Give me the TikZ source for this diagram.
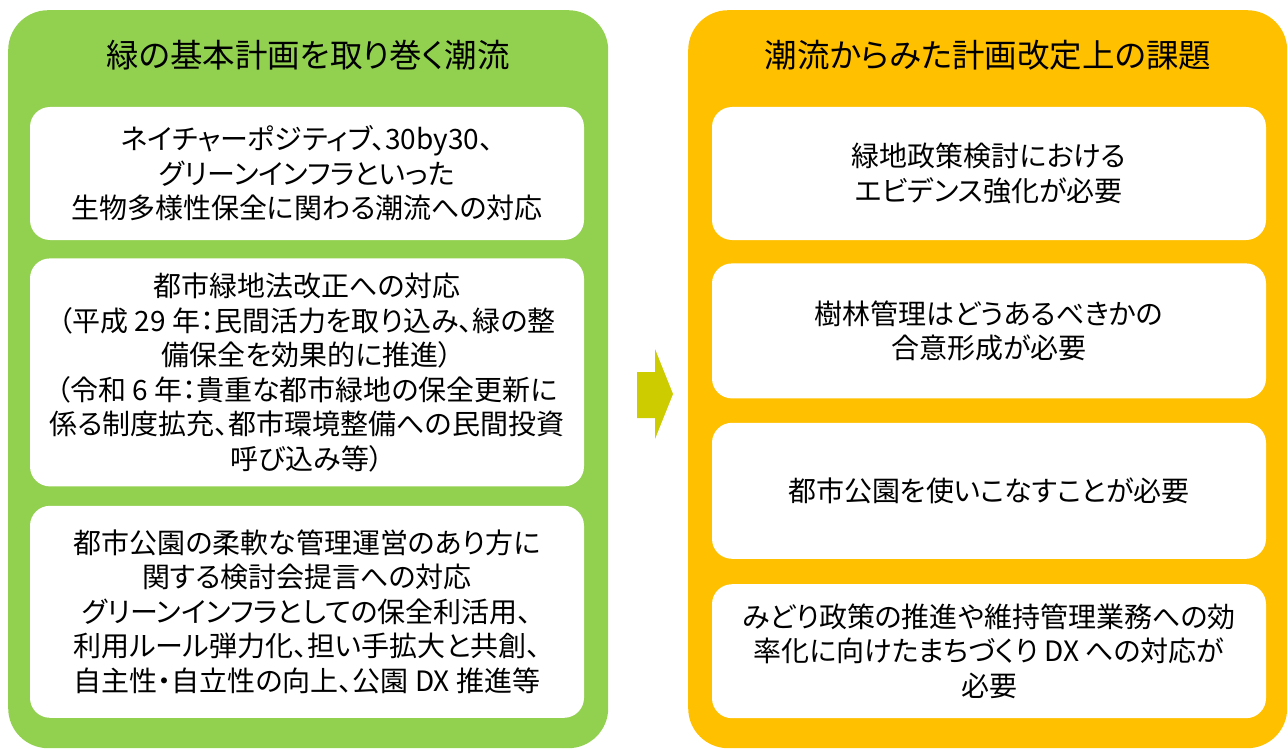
\documentclass[tikz,border=0pt]{standalone}
\usepackage{fontspec}
\setmainfont{Noto Sans CJK JP}[RawFeature=+palt]
\usetikzlibrary{positioning}

\definecolor{trendgreen}{RGB}{146,208,80}
\definecolor{issueorange}{RGB}{255,192,0}
\definecolor{arrowolive}{RGB}{204,204,0}

\begin{document}
\begin{tikzpicture}[x=1pt, y=-1pt,
    panel/.style={rounded corners=40pt, minimum width=600pt, minimum height=738pt, inner sep=0pt, anchor=north west},
    panel title/.style={font=\fontsize{32.5}{38}\selectfont},
    item box/.style={fill=white, rounded corners=20pt, minimum width=554pt, inner sep=0pt, align=center, font=\fontsize{28}{34.5}\selectfont}]
    \useasboundingbox (0,0) rectangle (1288,749);

    % panels
    \node[panel, fill=trendgreen] (trend) at (8,10) {};
    \node[panel, fill=issueorange, minimum width=599pt] (issue) at (688,10) {};
    \node[panel title] (trendtitle) at (308,55) {緑の基本計画を取り巻く潮流};
    \node[panel title] (issuetitle) at (988,55) {潮流からみた計画改定上の課題};

    % left column
    \node[item box, minimum height=133pt] (t1) at (307,173.5) {ネイチャーポジティブ、30by30、\\グリーンインフラといった\\生物多様性保全に関わる潮流への対応};
    \node[item box, minimum height=228pt, below=18pt of t1] (t2) {都市緑地法改正への対応\\（平成 29 年：民間活力を取り込み、緑の整\\備保全を効果的に推進）\\（令和 6 年：貴重な都市緑地の保全更新に\\係る制度拡充、都市環境整備への民間投資\\呼び込み等）};
    \node[item box, minimum height=212pt, below=19pt of t2] (t3) {都市公園の柔軟な管理運営のあり方に\\関する検討会提言への対応\\グリーンインフラとしての保全利活用、\\利用ルール弾力化、担い手拡大と共創、\\自主性・自立性の向上、公園 DX 推進等};

    % right column
    \node[item box, minimum height=133pt] (i1) at (989,173.5) {緑地政策検討における\\エビデンス強化が必要};
    \node[item box, minimum height=135pt, below=23pt of i1] (i2) {樹林管理はどうあるべきかの\\合意形成が必要};
    \node[item box, minimum height=136pt, below=24pt of i2] (i3) {都市公園を使いこなすことが必要};
    \node[item box, minimum height=134pt, below=25pt of i3] (i4) {みどり政策の推進や維持管理業務への効\\率化に向けたまちづくり DX への対応が\\必要};

    % arrow between the panels
    \fill[arrowolive] (637,372) -- (655,372) -- (655,349) -- (673,394) -- (655,439) -- (655,418) -- (637,418) -- cycle;
\end{tikzpicture}
\end{document}
